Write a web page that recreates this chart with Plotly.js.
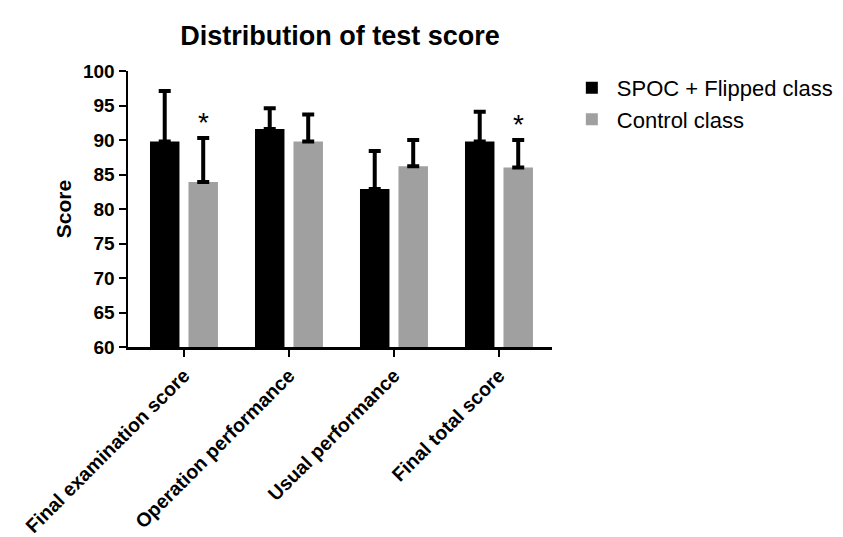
<!DOCTYPE html>
<html>
<head>
<meta charset="utf-8">
<script src="https://cdn.plot.ly/plotly-3.0.1.min.js"></script>
<style>html,body{margin:0;padding:0;background:#fff}#chart{width:843px;height:537px}</style>
</head>
<body>
<div id="chart"></div>
<script>
const categories = ["Final examination score", "Operation performance", "Usual performance", "Final total score"];
const spocMean = [89.8, 91.6, 82.9, 89.8];
const spocSD = [7.3, 3.0, 5.5, 4.3];
const controlMean = [83.9, 89.8, 86.2, 86.0];
const controlSD = [6.4, 3.9, 3.8, 4.0];
const controlSignificant = [true, false, false, true];
const seriesNames = ["SPOC + Flipped class", "Control class"];
const yTicks = [60, 65, 70, 75, 80, 85, 90, 95, 100];

const font = "Liberation Sans, Arial, sans-serif";
const zeros = categories.map(() => 0);

function barTrace(name, y, err, color) {
  return {
    type: "bar", name: name, x: categories, y: y,
    marker: {color: color, line: {width: 0}},
    error_y: {type: "data", symmetric: false, array: err, arrayminus: zeros,
              color: "#000", thickness: 4, width: 6}
  };
}

const traces = [
  barTrace(seriesNames[0], spocMean, spocSD, "#000000"),
  barTrace(seriesNames[1], controlMean, controlSD, "#a0a0a0")
];

const annotations = [];
controlSignificant.forEach((sig, i) => {
  if (sig) {
    annotations.push({
      x: categories[i], y: controlMean[i] + controlSD[i], xref: "x", yref: "y",
      text: "*", showarrow: false, xshift: 20, yanchor: "bottom", yshift: -2,
      font: {family: font, size: 28, color: "#000"}
    });
  }
});

const layout = {
  width: 843, height: 537,
  margin: {l: 128, r: 291, t: 71, b: 190, autoexpand: false},
  paper_bgcolor: "#fff", plot_bgcolor: "#fff",
  barmode: "group", bargap: 0.267, bargroupgap: 0.234,
  title: {text: "<b>Distribution of test score</b>", x: 0.5, xref: "paper", xanchor: "center",
          y: 33, yref: "container", yanchor: "middle",
          font: {family: font, size: 27, color: "#000"}},
  xaxis: {
    type: "category", range: [-0.533, 3.505], showgrid: false, zeroline: false,
    showline: true, linecolor: "#000", linewidth: 2.5, automargin: false,
    ticks: "outside", ticklen: 7, tickwidth: 2, tickcolor: "#000",
    tickangle: -45, tickfont: {family: font, size: 19.5, color: "#000", weight: "bold"}
  },
  yaxis: {
    range: [60, 100], tickvals: yTicks, showgrid: false, zeroline: false,
    showline: true, linecolor: "#000", linewidth: 2.5, automargin: false,
    ticks: "outside", ticklen: 7, tickwidth: 2, tickcolor: "#000",
    tickfont: {family: font, size: 19, color: "#000", weight: "bold"},
    title: {text: "<b>Score</b>", standoff: 6, font: {family: font, size: 21, color: "#000"}}
  },
  legend: {x: 1.035, xanchor: "left", y: 1.015, yanchor: "top",
           font: {family: font, size: 22, color: "#000"}, tracegroupgap: 8, itemwidth: 40},
  annotations: annotations,
  showlegend: true
};

Plotly.newPlot("chart", traces, layout, {displayModeBar: false, staticPlot: true});
</script>
</body>
</html>
